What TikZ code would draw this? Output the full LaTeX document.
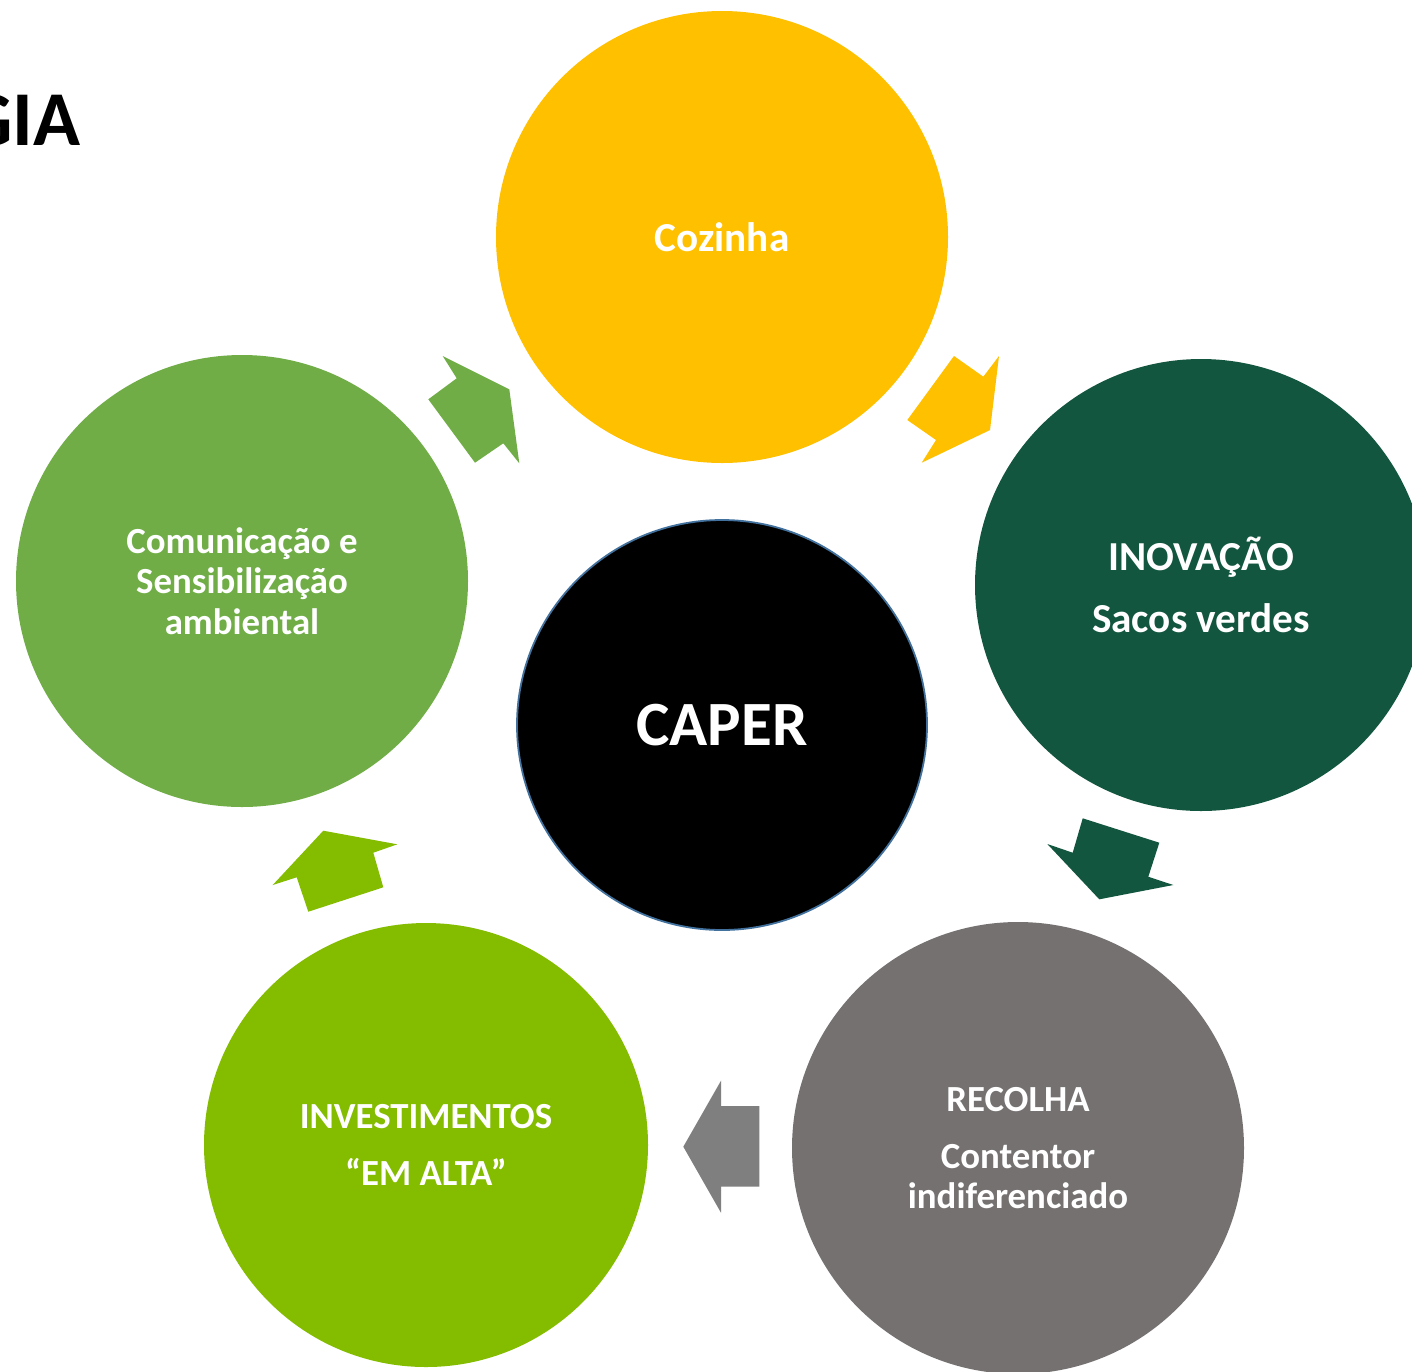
\documentclass[tikz,border=0pt]{standalone}
\usepackage{fontspec}
\setmainfont{Carlito}
\definecolor{cozinhaY}{HTML}{FFC000}
\definecolor{inovG}{HTML}{135640}
\definecolor{recolhaG}{HTML}{757171}
\definecolor{investL}{HTML}{84BC00}
\definecolor{comunG}{HTML}{70AD47}
\definecolor{arrowGray}{HTML}{7F7F7F}
\definecolor{rimBlue}{HTML}{41719C}
\begin{document}
\begin{tikzpicture}[x=0.5pt,y=-0.5pt,
  stage/.style={circle, inner sep=0pt, minimum size=226pt, text=white, align=center,
    font=\bfseries\fontsize{18.4}{20.25}\selectfont},
  bigstage/.style={stage, font=\bfseries\fontsize{20.6}{25}\selectfont},
  hub/.style={circle, inner sep=0pt, minimum size=205pt, fill=black, draw=rimBlue,
    line width=0.9pt, text=white, font=\bfseries\fontsize{31.5}{36}\selectfont},
  blockarrow/.style={draw=none}]
% canvas
\useasboundingbox (0,0) rectangle (1412,1371);
\fill[white] (0,0) rectangle (1412,1371);

% heading, running off the left edge
\node[anchor=base east, inner sep=0pt, font=\bfseries\fontsize{38.8}{44}\selectfont] (title) at (81,145) {GIA};

% cycle stages
\node[stage, bigstage, fill=cozinhaY] (cozinha) at (722,237) {Cozinha};
\node[stage, bigstage, fill=inovG] (inovacao) at (1201,585) {INOVAÇÃO\\[6pt]Sacos verdes};
\node[stage, fill=recolhaG] (recolha) at (1018,1148) {RECOLHA\\[8.25pt]Contentor\\indiferenciado};
\node[stage, minimum size=222pt, fill=investL] (invest) at (426,1145) {INVESTIMENTOS\\[8.25pt]“EM ALTA”};
\node[stage, fill=comunG] (comun) at (242,581) {Comunicação e\\Sensibilização\\ambiental};

% centre
\node[hub] (caper) at (722,725) {CAPER};

% block arrows between stages
\fill[blockarrow, fill=comunG] (442.7,356) -- (509.3,389.3) -- (519.3,463.3) -- (503.3,443.3)
  -- (475,462.7) -- (428.3,399.3) -- (456.7,378.3) -- cycle;
\fill[blockarrow, fill=cozinhaY] (954,356) -- (983.3,376.7) -- (999,356) -- (990,430)
  -- (921.7,462.7) -- (936,440) -- (907.3,420) -- cycle;
\fill[blockarrow, fill=inovG] (1082.7,818.3) -- (1159.3,842.7) -- (1148.3,876.7) -- (1173.3,885)
  -- (1099.3,899.3) -- (1047.3,844) -- (1072.7,852.7) -- cycle;
\fill[blockarrow, fill=arrowGray] (721,1080.7) -- (721,1106) -- (759.3,1106) -- (759.3,1186.7)
  -- (721,1186.7) -- (721,1212.7) -- (683.3,1146.7) -- cycle;
\fill[blockarrow, fill=investL] (323.3,830.7) -- (397.3,844.3) -- (373.3,852.7) -- (383.3,887.3)
  -- (308.3,911.7) -- (296.7,877.3) -- (272.7,885) -- cycle;
\end{tikzpicture}
\end{document}
